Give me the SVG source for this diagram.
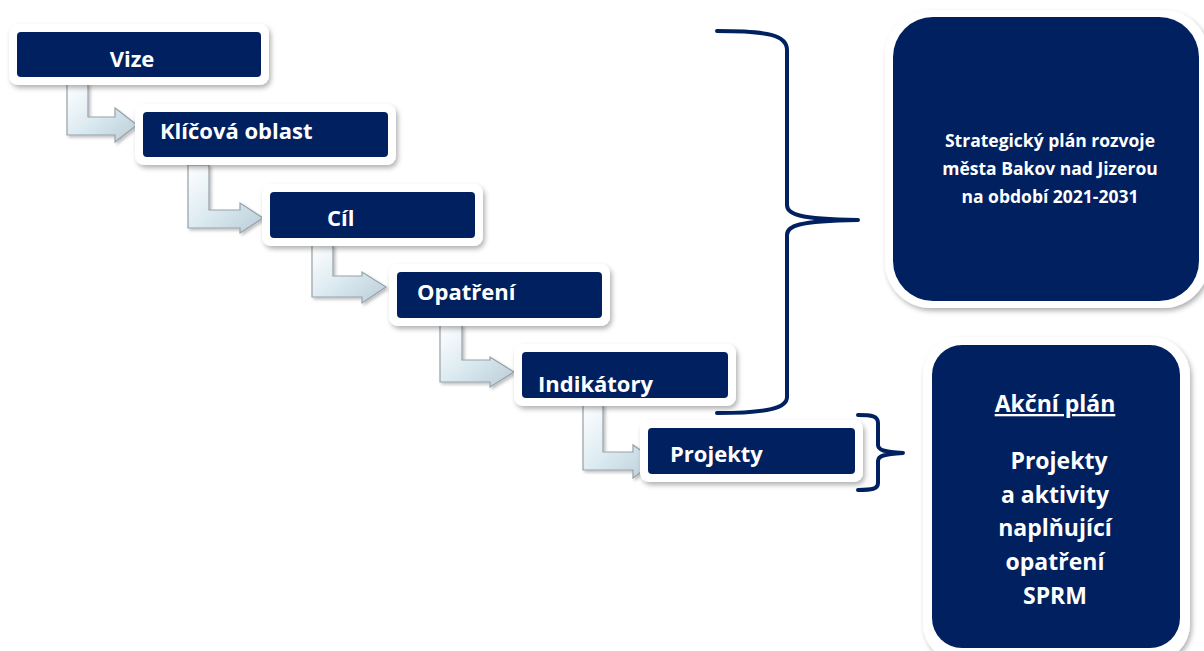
<svg xmlns="http://www.w3.org/2000/svg" width="1204" height="651" viewBox="0 0 1204 651">
<defs>
<filter id="sh" x="-20%" y="-30%" width="140%" height="170%">
<feDropShadow dx="2" dy="3" stdDeviation="2.5" flood-color="#000" flood-opacity="0.3"/>
</filter>
<filter id="ash" x="-30%" y="-30%" width="160%" height="160%">
<feDropShadow dx="2" dy="2" stdDeviation="1.5" flood-color="#000" flood-opacity="0.25"/>
</filter>
<linearGradient id="ag" x1="0" y1="0" x2="1" y2="1">
<stop offset="0" stop-color="#ffffff"/>
<stop offset="0.5" stop-color="#dbeaf1"/>
<stop offset="1" stop-color="#b9ccd6"/>
</linearGradient>
<style>
.frame{fill:#ffffff;filter:url(#sh);}
.inner{fill:#00205f;}
.lbl{font-family:"Open Sans","Noto Sans","DejaVu Sans",sans-serif;font-weight:bold;font-size:22px;fill:#ffffff;}
.big{font-family:"Open Sans","Noto Sans","DejaVu Sans",sans-serif;font-weight:bold;fill:#ffffff;text-anchor:middle;}
.arrow{fill:url(#ag);stroke:#96a1a8;stroke-width:1.2;stroke-linejoin:miter;filter:url(#ash);}
.brace{fill:none;stroke:#00205f;stroke-width:4;stroke-linecap:round;stroke-linejoin:round;}
</style>
</defs>
<rect width="1204" height="651" fill="#ffffff"/>

<g id="connectors">
<polygon class="arrow" points="67,84 88,84 88,117 115,117 115,108 137,125 115,142 115,135 67,135"/>
<polygon class="arrow" points="188,165 209,165 209,210 240,210 240,203 263,218 240,233 240,228 188,228"/>
<polygon class="arrow" points="312,245 333,245 333,276 362,276 362,272 386,287 362,303 362,297 312,297"/>
<polygon class="arrow" points="440,325 462,325 462,360 490,360 490,357 514,372 490,387 490,382 440,382"/>
<polygon class="arrow" points="583,405 603,405 603,452 633,452 633,445 656,461 633,478 633,470 583,470"/>
<path class="brace" d="M717,31 C768,31 787,35 787,50 L787,205 C787,214 797,219 858,220 C797,221 787,226 787,235 L787,397 C787,408 768,413 717,413"/>
<path class="brace" d="M858,415 C872,415 878,416 878,423 L878,445 C878,450 884,452 903,453 C884,454 878,456 878,461 L878,483 C878,489 872,490 858,490"/>
</g>

<g id="node-vize">
<rect class="frame" x="9" y="24" width="260" height="61" rx="9"/>
<rect class="inner" x="17" y="32" width="244" height="45" rx="4"/>
<text class="lbl" x="132" y="67" text-anchor="middle">Vize</text>
</g>

<g id="node-klicova-oblast">
<rect class="frame" x="135" y="104" width="261" height="61" rx="9"/>
<rect class="inner" x="143" y="112" width="245" height="45" rx="4"/>
<text class="lbl" x="160" y="139">Klíčová oblast</text>
</g>

<g id="node-cil">
<rect class="frame" x="262" y="184" width="221" height="62" rx="9"/>
<rect class="inner" x="270" y="192" width="205" height="46" rx="4"/>
<text class="lbl" x="327" y="226">Cíl</text>
</g>

<g id="node-opatreni">
<rect class="frame" x="389" y="264" width="221" height="62" rx="9"/>
<rect class="inner" x="397" y="272" width="205" height="46" rx="4"/>
<text class="lbl" x="417" y="300">Opatření</text>
</g>

<g id="node-indikatory">
<rect class="frame" x="514" y="344" width="222" height="62" rx="9"/>
<rect class="inner" x="522" y="352" width="206" height="46" rx="4"/>
<text class="lbl" x="538" y="392">Indikátory</text>
</g>

<g id="node-projekty">
<rect class="frame" x="640" y="420" width="223" height="62" rx="9"/>
<rect class="inner" x="648" y="428" width="207" height="46" rx="4"/>
<text class="lbl" x="670" y="462">Projekty</text>
</g>

<g id="node-sprm">
<rect class="frame" x="885" y="10" width="324" height="298" rx="46"/>
<rect class="inner" x="893" y="17" width="306" height="284" rx="40"/>
<text class="big" x="1050" y="147" font-size="17.5">Strategický plán rozvoje</text>
<text class="big" x="1050" y="175" font-size="17.5">města Bakov nad Jizerou</text>
<text class="big" x="1050" y="203" font-size="17.5">na období 2021-2031</text>
</g>

<g id="node-akcni-plan">
<rect class="frame" x="923" y="337" width="267" height="325" rx="38"/>
<rect class="inner" x="932" y="345" width="248" height="303" rx="30"/>
<text class="big" x="1055" y="412" font-size="23" text-decoration="underline">Akční plán</text>
<text class="big" x="1059" y="469" font-size="23">Projekty</text>
<text class="big" x="1055" y="503" font-size="23">a aktivity</text>
<text class="big" x="1055" y="536" font-size="23">naplňující</text>
<text class="big" x="1055" y="570" font-size="23">opatření</text>
<text class="big" x="1055" y="604" font-size="23">SPRM</text>
</g>
</svg>
